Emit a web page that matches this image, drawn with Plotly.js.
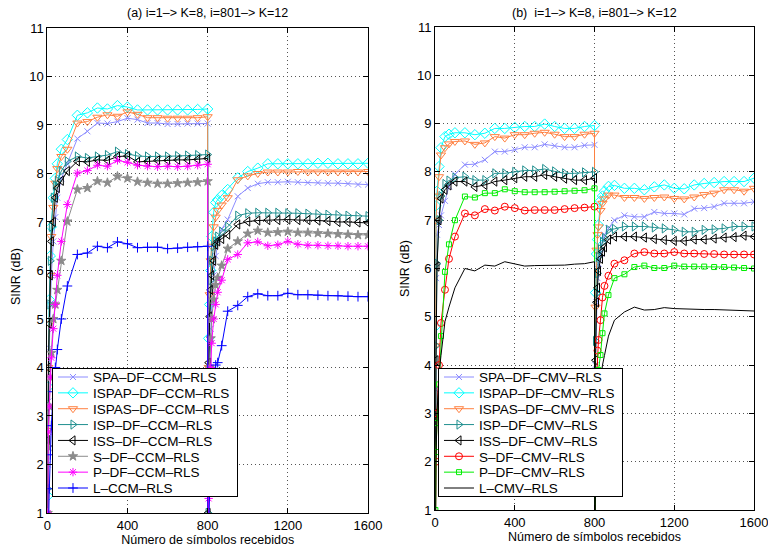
<!DOCTYPE html>
<html><head><meta charset="utf-8">
<script src="https://cdn.plot.ly/plotly-3.0.1.min.js"></script>
<style>body{margin:0;background:#fff}#chart{width:768px;height:552px}</style>
</head><body><div id="chart"></div>
<script>
// ---------- x positions (received symbols) ----------
const XA1 = [0,2,5,10,15,20,30,40,50,70,100,150,200,250,300,350,400,450,500,550,600,650,700,750,800];
const XA2 = [801,802,805,810,815,820,830,840,850,870,900,950,1000,1050,1100,1150,1200,1250,1300,1350,1400,1450,1500,1550,1600];
const XB1 = [0,2,5,10,20,30,50,70,100,150,200,250,300,350,400,450,500,550,600,650,700,750,800];
const XB2 = [801,802,805,810,815,820,830,840,850,870,900,950,1000,1050,1100,1150,1200,1250,1300,1350,1400,1450,1500,1550,1600];

const xTicks = [0,400,800,1200,1600];
const yTicks = [1,2,3,4,5,6,7,8,9,10,11];

// ---------- panel (a): CCM ----------
const namesA = ["SPA–DF–CCM–RLS","ISPAP–DF–CCM–RLS","ISPAS–DF–CCM–RLS","ISP–DF–CCM–RLS","ISS–DF–CCM–RLS","S–DF–CCM–RLS","P–DF–CCM–RLS","L–CCM–RLS"];
const A_SPA_1   = [-1,2.0,3.3,4.4,5.3,5.9,6.6,7.1,7.5,7.9,8.2, 8.72,8.87,9.04,9.03,9.07,9.14,9.11,9.04,9.04,9.02,9.02,9.03,9.03,9.03];
const A_SPA_2   = [-1,2.0,3.0,4.0,4.8,5.3,5.9,6.3,6.6,6.85,7.05, 7.53,7.7,7.79,7.82,7.82,7.83,7.82,7.81,7.81,7.8,7.8,7.79,7.77,7.77];
const A_ISPAP_1 = [-1,1.35,3.6,5.4,6.3,6.9,7.5,7.9,8.2,8.5,8.7, 9.2,9.25,9.35,9.33,9.40,9.37,9.31,9.31,9.31,9.31,9.31,9.31,9.32,9.33];
const A_ISPAP_2 = [-1,2.0,4.6,5.3,6.0,6.7,7.2,7.4,7.46,7.55,7.67, 7.91,8.04,8.11,8.2,8.2,8.2,8.2,8.2,8.21,8.21,8.2,8.2,8.2,8.21];
const A_ISPAS_1 = [-1,2.7,4.0,4.9,5.9,6.7,7.3,7.8,8.1,8.35,8.5, 9.04,9.07,9.16,9.21,9.18,9.27,9.22,9.15,9.15,9.14,9.14,9.14,9.15,9.17];
const A_ISPAS_2 = [-1,1.5,4.0,5.5,6.2,6.5,6.9,7.1,7.24,7.35,7.5, 7.87,7.95,8.0,8.03,8.03,8.03,8.04,8.03,8.03,8.03,8.03,8.03,8.03,8.04];
const A_ISP_1   = [-1,1.5,3.2,5.3,6.2,6.9,7.5,7.75,7.85,8.05,8.25, 8.35,8.32,8.35,8.38,8.45,8.4,8.36,8.35,8.35,8.35,8.36,8.37,8.38,8.39];
const A_ISP_2   = [-1,1.0,3.3,5.0,5.8,6.2,6.5,6.6,6.7,6.8,6.9, 7.13,7.18,7.19,7.19,7.19,7.18,7.18,7.17,7.16,7.15,7.14,7.13,7.12,7.12];
const A_ISS_1   = [-1,2.5,4.0,4.9,5.9,6.6,7.0,7.5,7.7,7.85,8.05, 8.25,8.24,8.28,8.27,8.35,8.36,8.24,8.25,8.27,8.27,8.28,8.28,8.29,8.31];
const A_ISS_2   = [-1,1.0,4.1,5.05,5.6,5.9,6.2,6.53,6.6,6.65,6.74, 6.95,7.01,7.03,7.04,7.04,7.05,7.04,7.04,7.03,7.02,7.0,7.0,6.99,6.98];
const A_S_1     = [-1,1.0,2.36,3.2,3.8,4.3,5.0,5.3,5.6,6.2,7.01, 7.67,7.7,7.84,7.81,7.94,7.9,7.83,7.81,7.79,7.79,7.8,7.81,7.82,7.84];
const A_S_2     = [-1,0.8,2.5,4.0,4.6,5.0,5.4,5.7,5.85,6.1,6.45, 6.6,6.76,6.82,6.78,6.79,6.8,6.78,6.78,6.77,6.76,6.75,6.74,6.73,6.73];
const A_P_1     = [-1,1.0,2.67,3.2,3.8,4.2,4.8,5.3,5.9,6.6,7.36, 8.01,8.06,8.17,8.15,8.27,8.23,8.17,8.15,8.14,8.15,8.14,8.15,8.17,8.19];
const A_P_2     = [-1,0.5,1.3,3.2,4.0,4.5,5.0,5.3,5.55,5.8,6.23, 6.33,6.57,6.59,6.51,6.53,6.6,6.54,6.52,6.52,6.51,6.51,6.5,6.5,6.5];
const A_L_1     = [-3,-1,0.5,1.5,2.2,2.8,3.5,4.0,4.37,5.0,5.68, 6.33,6.36,6.5,6.47,6.59,6.55,6.47,6.48,6.48,6.45,6.46,6.48,6.49,6.5];
const A_L_2     = [-2,-1,0.5,1.5,2.5,3.2,3.8,4.05,4.1,4.45,5.16, 5.28,5.46,5.52,5.48,5.48,5.53,5.5,5.5,5.49,5.48,5.48,5.47,5.46,5.46];

// ---------- panel (b): CMV ----------
const namesB = ["SPA–DF–CMV–RLS","ISPAP–DF–CMV–RLS","ISPAS–DF–CMV–RLS","ISP–DF–CMV–RLS","ISS–DF–CMV–RLS","S–DF–CMV–RLS","P–DF–CMV–RLS","L–CMV–RLS"];
const B_SPA_1   = [-1,3.5,5.8,6.7,6.9,7.1,7.4,7.7,7.95, 8.15,8.16,8.25,8.42,8.42,8.46,8.51,8.51,8.57,8.54,8.51,8.51,8.55,8.56];
const B_SPA_2   = [-1,2.0,4.0,5.3,5.8,6.1,6.3,6.6,6.7,6.83,7.0, 7.1,7.07,7.07,7.17,7.14,7.14,7.12,7.24,7.25,7.28,7.35,7.35,7.35,7.38];
const B_ISPAP_1 = [-1,4.8,7.3,7.6,8.11,8.5,8.73,8.78,8.81, 8.81,8.77,8.8,8.9,8.9,8.92,8.94,8.94,8.99,8.94,8.9,8.9,8.94,8.96];
const B_ISPAP_2 = [-1,3.0,5.5,6.3,6.6,6.9,7.4,7.5,7.6,7.7,7.72, 7.66,7.66,7.63,7.69,7.73,7.66,7.65,7.73,7.76,7.78,7.8,7.8,7.8,7.87];
const B_ISPAS_1 = [-1,4.4,7.0,7.5,7.9,8.35,8.5,8.58,8.63, 8.64,8.57,8.6,8.73,8.7,8.77,8.77,8.8,8.82,8.78,8.73,8.73,8.78,8.8];
const B_ISPAS_2 = [-1,2.5,5.2,6.38,6.7,6.86,7.2,7.35,7.44,7.52,7.52, 7.47,7.47,7.45,7.47,7.48,7.45,7.44,7.48,7.53,7.56,7.63,7.63,7.6,7.66];
const B_ISP_1   = [-1,2.9,4.4,6.1,7.0,7.5,7.75,7.82,7.88, 7.9,7.83,7.83,7.97,7.97,8.0,8.03,8.03,8.06,8.01,7.97,7.97,7.99,8.0];
const B_ISP_2   = [-1,2.5,4.5,5.48,5.9,6.24,6.4,6.55,6.63,6.8,6.82, 6.87,6.87,6.87,6.85,6.83,6.8,6.76,6.76,6.8,6.81,6.83,6.87,6.87,6.87];
const B_ISS_1   = [-1,3.0,4.1,6.04,7.0,7.45,7.63,7.72,7.8, 7.8,7.69,7.73,7.8,7.83,7.87,7.9,7.9,7.94,7.9,7.86,7.83,7.83,7.87];
const B_ISS_2   = [-1,2.0,4.1,5.3,5.6,5.95,6.2,6.35,6.44,6.6,6.66, 6.66,6.66,6.64,6.61,6.59,6.57,6.57,6.6,6.6,6.62,6.64,6.65,6.68,6.66];
const B_S_1     = [-1,0.5,2.0,3.0,4.0,4.87,5.56,6.2,6.66, 7.14,7.1,7.23,7.2,7.28,7.25,7.2,7.21,7.21,7.21,7.23,7.25,7.26,7.28];
const B_S_2     = [-1,0.5,2.5,3.7,4.3,4.52,4.93,5.4,5.64,5.85,6.1, 6.17,6.31,6.34,6.31,6.31,6.34,6.31,6.31,6.3,6.3,6.29,6.29,6.29,6.29];
const B_P_1     = [-1,1.0,2.2,2.8,3.6,4.6,5.93,6.5,7.0, 7.49,7.47,7.56,7.56,7.64,7.6,7.58,7.58,7.58,7.59,7.6,7.61,7.62,7.66];
const B_P_2     = [-1,0.5,2.0,3.0,3.5,3.9,4.21,4.66,5.07,5.45,5.8, 5.88,6.03,6.06,6.01,6.01,6.06,6.04,6.04,6.04,6.03,6.03,6.02,6.01,6.0];
const B_L_1     = [-1,1.0,2.0,3.0,3.8,4.2,4.9,5.2,5.6, 6.0,5.95,6.07,6.05,6.14,6.1,6.05,6.06,6.06,6.06,6.07,6.09,6.1,6.14];
const B_L_2     = [-1,0.5,1.5,2.5,3.0,3.3,3.7,4.0,4.2,4.6,4.93, 5.1,5.2,5.14,5.15,5.19,5.17,5.16,5.16,5.15,5.15,5.14,5.14,5.13,5.12];

// ---------- styles ----------
const colors  = ["#8c8cff","#00ffff","#ff8040","#1f8f8f","#000000","#8c8c8c","#ff00ff","#0000ff"];
const symbolsA = ["x-thin-open","diamond-open","triangle-down-open","triangle-right-open","triangle-left-open","star","asterisk-open","cross-thin-open"];
const sizesA   = [6,8,8,8,8,7,7,7];
const colorsB  = ["#8c8cff","#00ffff","#ff8040","#1f8f8f","#000000","#ff0000","#00ee00","#000000"];
const symbolsB = ["x-thin-open","diamond-open","triangle-down-open","triangle-right-open","triangle-left-open","circle-open","square-open",null];
const sizesB   = [6,8,8,8,8,7,5,0];

const seriesA = [[A_SPA_1,A_SPA_2],[A_ISPAP_1,A_ISPAP_2],[A_ISPAS_1,A_ISPAS_2],[A_ISP_1,A_ISP_2],[A_ISS_1,A_ISS_2],[A_S_1,A_S_2],[A_P_1,A_P_2],[A_L_1,A_L_2]];
const seriesB = [[B_SPA_1,B_SPA_2],[B_ISPAP_1,B_ISPAP_2],[B_ISPAS_1,B_ISPAS_2],[B_ISP_1,B_ISP_2],[B_ISS_1,B_ISS_2],[B_S_1,B_S_2],[B_P_1,B_P_2],[B_L_1,B_L_2]];

const traces = [];
seriesA.forEach((s,i) => {
  traces.push({
    x: XA1.concat(XA2), y: s[0].concat(s[1]), name: namesA[i],
    type: "scatter", mode: "lines+markers", xaxis: "x", yaxis: "y", legend: "legend",
    line: {color: colors[i], width: 1},
    marker: {symbol: symbolsA[i], size: sizesA[i], color: colors[i], line: {color: colors[i], width: 1}}
  });
});
seriesB.forEach((s,i) => {
  const t = {
    x: XB1.concat(XB2), y: s[0].concat(s[1]), name: namesB[i],
    type: "scatter", mode: symbolsB[i] ? "lines+markers" : "lines", xaxis: "x2", yaxis: "y2", legend: "legend2",
    line: {color: colorsB[i], width: 1}
  };
  if (symbolsB[i]) t.marker = {symbol: symbolsB[i], size: sizesB[i], color: colorsB[i], line: {color: colorsB[i], width: 1}};
  traces.push(t);
});

const FONT = "Liberation Sans, Arial, Helvetica, sans-serif";
function xax(domain, anchor) {
  return {domain: domain, anchor: anchor, range: [0,1600], tickvals: xTicks, ticktext: xTicks.map(String),
    ticks: "inside", ticklen: 5, tickcolor: "#000", showline: true, linecolor: "#000", linewidth: 1, mirror: "ticks",
    showgrid: true, gridcolor: "#555", griddash: "1px,3px", gridwidth: 1, zeroline: false, ticklabeloverflow: "allow",
    tickfont: {size: 13, color: "#000", family: FONT},
    title: {text: "Número de símbolos recebidos", font: {size: 12.5, color: "#000", family: FONT}, standoff: 2}};
}
function yax(domain, anchor) {
  return {domain: domain, anchor: anchor, range: [1,11], tickvals: yTicks, ticktext: yTicks.map(String),
    ticks: "inside", ticklen: 5, tickcolor: "#000", showline: true, linecolor: "#000", linewidth: 1, mirror: "ticks",
    showgrid: true, gridcolor: "#555", griddash: "1px,3px", gridwidth: 1, zeroline: false,
    tickfont: {size: 13, color: "#000", family: FONT}};
}
function leg(x) {
  return {x: x, y: 0.0996, xanchor: "left", yanchor: "bottom", bgcolor: "#fff", bordercolor: "#000", borderwidth: 1,
    font: {size: 13.5, color: "#000", family: FONT}, tracegroupgap: 0, itemwidth: 30};
}
function ann(text, x, y, angle) {
  return {text: text, xref: "paper", yref: "paper", x: x, y: y, xanchor: "center", yanchor: "middle",
    showarrow: false, textangle: angle, font: {size: 12.5, family: FONT, color: "#000"}};
}

const layout = {
  width: 768, height: 552, margin: {l: 0, r: 0, t: 0, b: 0},
  paper_bgcolor: "#fff", plot_bgcolor: "#fff", font: {family: FONT, color: "#000"},
  xaxis: xax([0.0616, 0.4792], "y"),
  yaxis: yax([0.0707, 0.9493], "x"),
  xaxis2: xax([0.5664, 0.9818], "y2"),
  yaxis2: yax([0.0761, 0.9511], "x2"),
  legend: leg(0.0677),
  legend2: leg(0.5703),
  showlegend: true,
  annotations: [
    ann("(a) i=1–> K=8, i=801–> K=12", 0.2704, 1 - 13/552, 0),
    ann("(b)  i=1–> K=8, i=801–> K=12", 0.7741, 1 - 13/552, 0),
    ann("SINR (dB)", 16/768, 1 - 277/552, -90),
    ann("SINR (dB)", 405/768, 1 - 269/552, -90)
  ]
};

// compact legend rows (MATLAB-style 16px spacing) after drawing
function compactLegend(gd, cls, top, width, height) {
  const g = gd.querySelector("g." + cls);
  if (!g) return;
  const items = g.querySelectorAll("g.traces");
  const step = (height - 18) / Math.max(items.length - 1, 1);
  items.forEach((it, i) => {
    const m = /translate\(\s*([-\d.e]+)[ ,]+([-\d.e]+)\s*\)/.exec(it.getAttribute("transform") || "");
    if (!m) return;
    it.setAttribute("transform", "translate(" + m[1] + "," + (9 + step * i) + ")");
  });
  const bg = g.querySelector("rect.bg");
  if (bg) { bg.setAttribute("height", height - 1); bg.setAttribute("width", width - 1); }
  const m2 = /translate\(\s*([-\d.e]+)[ ,]+([-\d.e]+)\s*\)/.exec(g.getAttribute("transform") || "");
  if (m2) g.setAttribute("transform", "translate(" + m2[1] + "," + top + ")");
}

Plotly.newPlot("chart", traces, layout, {displayModeBar: false, staticPlot: true}).then(gd => {
  compactLegend(gd, "legend", 368, 186, 129);
  compactLegend(gd, "legend2", 368, 185, 129);
});
</script></body></html>
